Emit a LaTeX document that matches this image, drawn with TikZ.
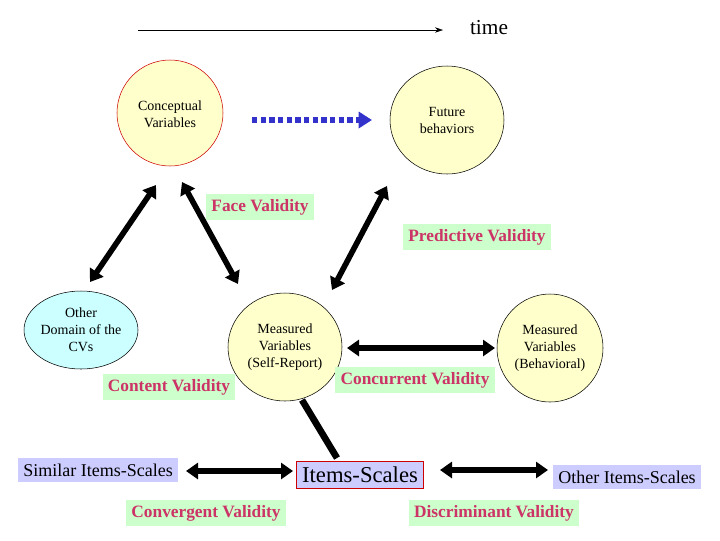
\documentclass[tikz,border=0pt]{standalone}
\usepackage{fontspec}
\setmainfont{Liberation Serif}
\usetikzlibrary{arrows.meta}
\definecolor{cir}{HTML}{FFFFCC}
\definecolor{cyanf}{HTML}{CCFFFF}
\definecolor{lab}{HTML}{CC3366}
\definecolor{labbg}{HTML}{CCFFCC}
\definecolor{bluebg}{HTML}{CCCCFF}
\definecolor{dotblue}{HTML}{3333CC}
\begin{document}
\begin{tikzpicture}[x=0.75pt,y=-0.75pt,
  etxt/.style={font=\fontsize{10.5}{12.75}\selectfont,align=center},
  vlab/.style={fill=labbg,text=lab,font=\bfseries\fontsize{13}{15}\selectfont,inner sep=4pt},
  ibox/.style={fill=bluebg,font=\fontsize{13.5}{16}\selectfont,inner sep=4pt},
  big/.style={line width=4.2pt,{Triangle[length=9pt,width=12pt]}-{Triangle[length=9pt,width=12pt]}}]
\useasboundingbox (0,0) rectangle (720,540);
\fill[white] (0,0) rectangle (720,540);
% time
\coordinate (t0) at (138,30);
\node[font=\fontsize{16}{18}\selectfont] (time) at (489,28) {time};
\coordinate (t1) at (443,30);
\draw[-{Stealth[length=6pt,width=4pt]},thin] (t0) -- (t1);
% ellipses
\draw[red!80!black,fill=cir] (170,113) ellipse (53 and 53);
\node[etxt] (cv) at (170,114) {Conceptual\\Variables};
\draw[fill=cir] (447,120) ellipse (57 and 54);
\node[etxt] (fb) at (447,120) {Future\\behaviors};
\draw[fill=cyanf] (81,330) ellipse (57 and 39);
\node[etxt] (od) at (81,330) {Other\\Domain of the\\CVs};
\draw[fill=cir] (285,347) ellipse (57 and 54);
\node[etxt] (ms) at (285,347) {Measured\\Variables\\(Self-Report)};
\draw[fill=cir] (550,348) ellipse (53 and 54);
\node[etxt] (mb) at (550,348) {Measured\\Variables\\(Behavioral)};
% labels
\node[vlab] (face) at (260,207) {Face Validity};
\node[vlab] (pred) at (477,237) {Predictive Validity};
\node[vlab] (cont) at (169,387) {Content Validity};
\node[vlab] (conc) at (415,380) {Concurrent Validity};
\node[vlab] (conv) at (206,513) {Convergent Validity};
\node[vlab] (disc) at (494,513) {Discriminant Validity};
\node[ibox] (sim) at (98,470) {Similar Items-Scales};
\node[ibox,draw=red!80!black,font=\fontsize{17}{19}\selectfont,inner sep=4pt] (items) at (360,475) {Items-Scales};
\node[ibox] (oth) at (627,477) {Other Items-Scales};
% dotted arrow
\coordinate (d0) at (252,120); \coordinate (d1) at (372,120);
\draw[dotblue,line width=4pt,dash pattern=on 4pt off 2.5pt,-{Triangle[length=10pt,width=12pt]}] (d0) -- (d1);
% big arrows
\coordinate (a1) at (90,282); \coordinate (a2) at (156,185);
\draw[big] (a1) -- (a2);
\coordinate (b1) at (182,182); \coordinate (b2) at (238,284);
\draw[big] (b1) -- (b2);
\coordinate (c1) at (387,186); \coordinate (c2) at (332,290);
\draw[big] (c1) -- (c2);
\coordinate (e1) at (347,348); \coordinate (e2) at (495,348);
\draw[big] (e1) -- (e2);
\coordinate (f1) at (302,400); \coordinate (f2) at (337,458);
\draw[line width=5pt] (f1) -- (f2);
\coordinate (g1) at (186,471); \coordinate (g2) at (293,471);
\draw[big] (g1) -- (g2);
\coordinate (h1) at (440,470); \coordinate (h2) at (548,470);
\draw[big] (h1) -- (h2);
\end{tikzpicture}
\end{document}
